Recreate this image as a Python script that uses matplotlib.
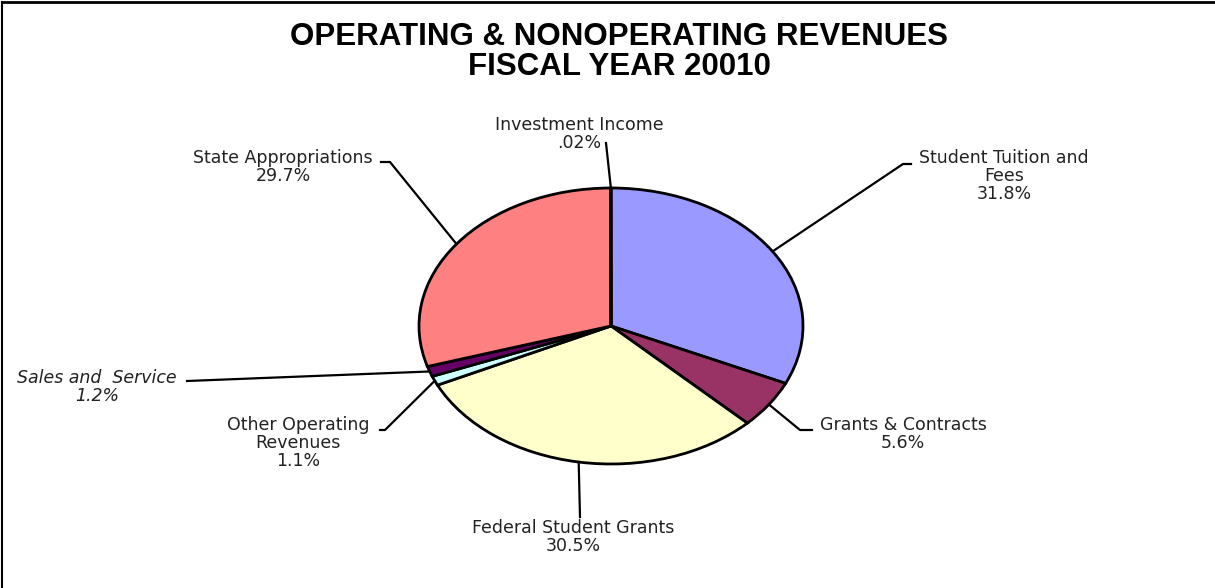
import numpy as np
import matplotlib
matplotlib.use("Agg")
from matplotlib import pyplot as plt
from matplotlib.lines import Line2D

# revenue shares, clockwise from the top
categorias = ["Student Tuition and\nFees", "Grants & Contracts", "Federal Student Grants",
              "Other Operating\nRevenues", "Sales and  Service", "State Appropriations",
              "Investment Income"]
porcentajes = [31.8, 5.6, 30.5, 1.1, 1.2, 29.7, 0.02]
etiquetas_pct = ["31.8%", "5.6%", "30.5%", "1.1%", "1.2%", "29.7%", ".02%"]
colores = ["#9999FF", "#993366", "#FFFFCC", "#CCFFFF", "#660066", "#FF8080", "#FFFFFF"]

W, H = 1215, 588
CX, CY, RX, RY = 611, 326, 192, 138


def px(x, y):
    # pixel position -> pie data coords
    return (x - CX) / RX, (CY - y) / RY


# label centre (pixels), leader path points after the wedge anchor
layout = [
    ((1004, 176), [(903, 164), (911, 164)]),
    ((903, 434), [(800, 430), (812, 430)]),
    ((573, 537), [(580, 517)]),
    ((298, 443), [(385, 430), (380, 430)]),
    ((97, 387), [(187, 381)]),
    ((283, 167), [(390, 162), (381, 162)]),
    ((579, 134), [(606, 143)]),
]

fig = plt.figure(figsize=(W / 100, H / 100), dpi=100)
ax = fig.add_axes([(CX - RX) / W, 1 - (CY + RY) / H, 2 * RX / W, 2 * RY / H])

wedges, _ = ax.pie(porcentajes, colors=colores, startangle=90, counterclock=False,
                   radius=1, wedgeprops=dict(edgecolor="black", linewidth=2, clip_on=False))
ax.set_aspect("auto")
ax.set_xlim(-1, 1)
ax.set_ylim(-1, 1)
ax.axis("off")

for w, cat, pct, (pos, path) in zip(wedges, categorias, etiquetas_pct, layout):
    mid = np.deg2rad((w.theta1 + w.theta2) / 2)
    pts = [(np.cos(mid), np.sin(mid))] + [px(*p) for p in path]
    xs, ys = zip(*pts)
    ax.plot(xs, ys, color="black", lw=1.6, clip_on=False)
    estilo = "italic" if cat.startswith("Sales") else "normal"
    tx, ty = px(*pos)
    ax.text(tx, ty, cat + "\n" + pct, ha="center", va="center", fontsize=12.5,
            family="DejaVu Sans", style=estilo, color="#222222", linespacing=1.0)

fig.text(619 / W, 1 - 52 / H, "OPERATING & NONOPERATING REVENUES\nFISCAL YEAR 20010",
         ha="center", va="center", fontsize=22.5, fontweight="bold",
         family="Liberation Sans", linespacing=1.0)

# chart border
fig.add_artist(Line2D([2 / W, 1], [1 - 2 / H, 1 - 2 / H], color="black", lw=2))
fig.add_artist(Line2D([2 / W, 2 / W], [0, 1 - 2 / H], color="black", lw=1.5))

fig.savefig("out.png", dpi=100)
